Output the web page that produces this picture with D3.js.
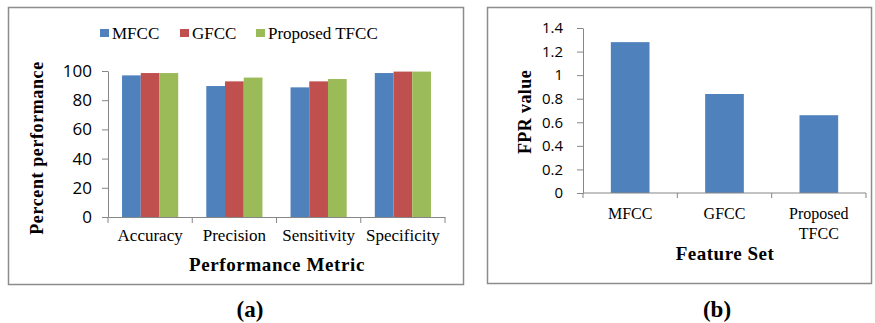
<!DOCTYPE html>
<html lang="en">
<head>
    <meta charset="UTF-8">
    <title>Performance and FPR comparison</title>
    <script src="https://d3js.org/d3.v7.min.js"></script>
    <style>
        body { margin: 0; background: #fff; }
        .tick text { font-family: "Open Sans", "Liberation Sans", Arial, sans-serif; fill: #000; }
        .domain, .tick line { stroke: #868686; }
        .serif { font-family: "Liberation Serif", "Times New Roman", serif; fill: #000; }
    </style>
</head>
<body>
    <div id="chart"></div>
    <script>
        // Panel (a) data
        const metrics = ["Accuracy", "Precision", "Sensitivity", "Specificity"];
        const features = ["MFCC", "GFCC", "Proposed TFCC"];
        const mfccPerf = [97.0, 89.7, 88.8, 98.6];
        const gfccPerf = [98.6, 92.9, 92.9, 99.6];
        const tfccPerf = [98.6, 95.5, 94.5, 99.6];
        const perfTicks = [0, 20, 40, 60, 80, 100];

        // Panel (b) data
        const featureSets = ["MFCC", "GFCC", "Proposed TFCC"];
        const fprValues = [1.28, 0.84, 0.66];
        const fprTicks = [0, 0.2, 0.4, 0.6, 0.8, 1, 1.2, 1.4];

        const colors = ["#4F81BD", "#C0504D", "#9BBB59"];

        const svg = d3.select("#chart").append("svg")
            .attr("width", 875)
            .attr("height", 323);

        // panel borders
        svg.append("rect").attr("x", 8.5).attr("y", 7.5).attr("width", 455).attr("height", 277)
            .attr("fill", "none").attr("stroke", "#8c8c8c").attr("stroke-width", 1.5);
        svg.append("rect").attr("x", 487.5).attr("y", 7.5).attr("width", 384).attr("height", 276)
            .attr("fill", "none").attr("stroke", "#8c8c8c").attr("stroke-width", 1.5);

        // ---------- panel (a) ----------
        const perfRows = metrics.map((m, i) => ({ metric: m, vals: [mfccPerf[i], gfccPerf[i], tfccPerf[i]] }));

        const x0 = d3.scaleBand().domain(metrics).range([108, 445]).padding(0);
        const x1 = d3.scaleBand().domain(features).range([0, x0.bandwidth()]).paddingInner(0).paddingOuter(0.75);
        const ya = d3.scaleLinear().domain([0, 100]).range([217, 71]);

        const ga = svg.append("g");
        ga.selectAll("g.grp")
            .data(perfRows)
            .join("g")
            .attr("class", "grp")
            .attr("transform", d => `translate(${x0(d.metric)},0)`)
            .selectAll("rect")
            .data(d => d.vals.map((v, j) => ({ key: features[j], v, j })))
            .join("rect")
            .attr("x", d => x1(d.key))
            .attr("y", d => ya(d.v))
            .attr("width", x1.bandwidth())
            .attr("height", d => ya(0) - ya(d.v))
            .attr("fill", d => colors[d.j]);

        ga.append("g")
            .attr("transform", "translate(108,0)")
            .call(d3.axisLeft(ya).tickValues(perfTicks).tickSize(6).tickSizeOuter(0).tickPadding(10))
            .call(g => g.selectAll(".tick text").attr("font-size", 17));

        const xa = ga.append("g")
            .attr("transform", "translate(0,217)")
            .call(d3.axisBottom(x0).tickSize(0).tickSizeOuter(0).tickPadding(12));
        xa.selectAll(".tick text").attr("class", "serif").attr("font-size", 17)
            .style("font-family", "'Liberation Serif', 'Times New Roman', serif");
        xa.selectAll("line.bound")
            .data(d3.range(metrics.length + 1))
            .join("line")
            .attr("class", "bound")
            .attr("x1", i => i < metrics.length ? x0(metrics[i]) : x0.range()[1])
            .attr("x2", i => i < metrics.length ? x0(metrics[i]) : x0.range()[1])
            .attr("y1", 0).attr("y2", 6)
            .attr("stroke", "#868686");

        // legend
        const legendX = [100, 180, 256];
        const lg = ga.selectAll("g.leg").data(features).join("g")
            .attr("transform", (d, i) => `translate(${legendX[i]},29)`);
        lg.append("rect").attr("width", 9).attr("height", 8).attr("fill", (d, i) => colors[i]);
        lg.append("text").attr("class", "serif").attr("x", 12).attr("y", 10)
            .attr("font-size", 17).text(d => d);

        ga.append("text").attr("class", "serif")
            .attr("transform", "translate(43,148) rotate(-90)")
            .attr("text-anchor", "middle").attr("font-size", 18).attr("font-weight", "bold")
            .attr("letter-spacing", 0.6)
            .text("Percent  performance");
        ga.append("text").attr("class", "serif")
            .attr("x", 277).attr("y", 271)
            .attr("text-anchor", "middle").attr("font-size", 19).attr("font-weight", "bold")
            .attr("letter-spacing", 0.6)
            .text("Performance  Metric");
        ga.append("text").attr("class", "serif")
            .attr("x", 250).attr("y", 317)
            .attr("text-anchor", "middle").attr("font-size", 23).attr("font-weight", "bold")
            .text("(a)");

        // ---------- panel (b) ----------
        const xb = d3.scaleBand().domain(featureSets).range([583, 866]).paddingInner(0.59).paddingOuter(0.295);
        const yb = d3.scaleLinear().domain([0, 1.4]).range([193, 28]);

        const gb = svg.append("g");
        gb.selectAll("rect")
            .data(featureSets.map((f, i) => ({ f, v: fprValues[i] })))
            .join("rect")
            .attr("x", d => xb(d.f))
            .attr("y", d => yb(d.v))
            .attr("width", xb.bandwidth())
            .attr("height", d => yb(0) - yb(d.v))
            .attr("fill", colors[0]);

        gb.append("g")
            .attr("transform", "translate(583,0)")
            .call(d3.axisLeft(yb).tickValues(fprTicks).tickSize(6).tickSizeOuter(0).tickPadding(14)
                .tickFormat(d3.format("~g")))
            .call(g => g.selectAll(".tick text").attr("font-size", 15));

        const step = xb.step();
        const bounds = d3.range(featureSets.length + 1).map(i => 583 + i * step);
        const xbAxis = gb.append("g").attr("transform", "translate(0,193)");
        xbAxis.append("line").attr("x1", 583).attr("x2", 866).attr("stroke", "#868686");
        xbAxis.selectAll("line.bound").data(bounds).join("line")
            .attr("class", "bound")
            .attr("x1", d => d).attr("x2", d => d).attr("y1", 0).attr("y2", 5)
            .attr("stroke", "#868686");
        xbAxis.selectAll("text.cat").data(featureSets).join("text")
            .attr("class", "serif cat")
            .attr("text-anchor", "middle").attr("font-size", 16)
            .attr("x", d => xb(d) + xb.bandwidth() / 2)
            .attr("y", 26)
            .each(function(d) {
                const words = d.split(" ");
                d3.select(this).selectAll("tspan").data(words).join("tspan")
                    .attr("x", xb(d) + xb.bandwidth() / 2)
                    .attr("dy", (w, k) => k === 0 ? 0 : 20)
                    .text(w => w);
            });

        gb.append("text").attr("class", "serif")
            .attr("transform", "translate(531,112) rotate(-90)")
            .attr("text-anchor", "middle").attr("font-size", 18).attr("font-weight", "bold")
            .attr("letter-spacing", 0.4)
            .text("FPR  value");
        gb.append("text").attr("class", "serif")
            .attr("x", 725).attr("y", 260)
            .attr("text-anchor", "middle").attr("font-size", 19).attr("font-weight", "bold")
            .attr("letter-spacing", 0.5)
            .text("Feature  Set");
        gb.append("text").attr("class", "serif")
            .attr("x", 717).attr("y", 317)
            .attr("text-anchor", "middle").attr("font-size", 23).attr("font-weight", "bold")
            .text("(b)");
    </script>
</body>
</html>
